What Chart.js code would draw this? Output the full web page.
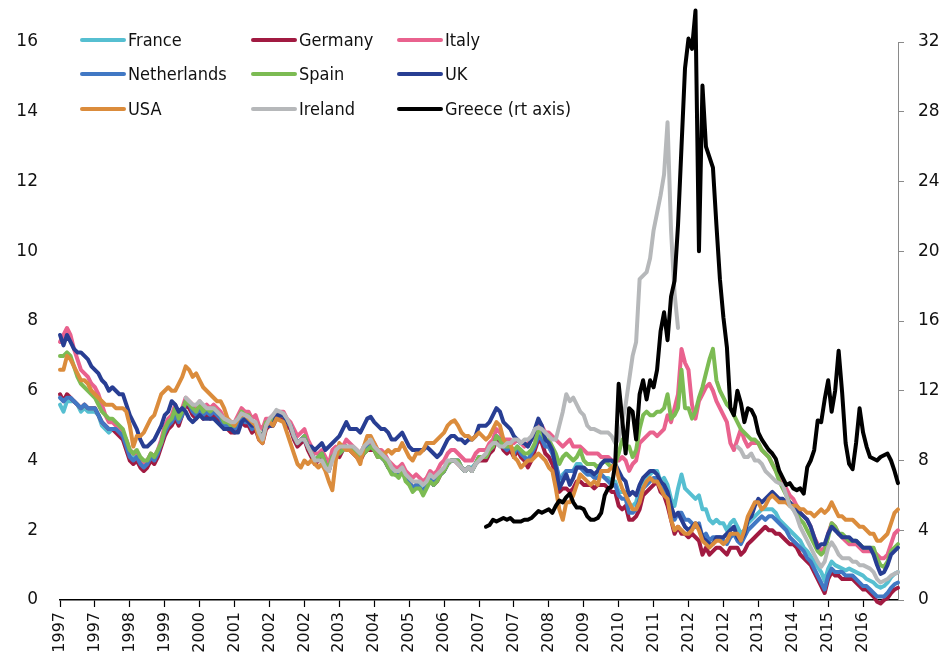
<!DOCTYPE html>
<html><head><meta charset="utf-8">
<script src="https://cdn.jsdelivr.net/npm/chart.js@4.4.1/dist/chart.umd.min.js"></script>
<style>html,body{margin:0;padding:0;background:#fff}#wrap{width:952px;height:662px;position:relative}</style>
</head><body><div id="wrap"><canvas id="c" width="952" height="662"></canvas></div>
<script>
// monthly categories Jan 1997 .. Jan 2017
const categories = [];
for (let m = 0; m <= 240; m++) categories.push((1997 + Math.floor(m / 12)) + '-' + String(m % 12 + 1).padStart(2, '0'));
const tickYears = ['1997','1997','1998','1999','2000','2001','2002','2002','2003','2004','2005','2006','2007','2007','2008','2009','2010','2011','2012','2012','2013','2014','2015','2016'];

const france = [
5.6,5.4,5.7,5.7,5.7,5.6,5.4,5.5,5.4,5.4,5.4,5.3,
5.0,4.9,4.8,4.9,4.9,4.8,4.7,4.4,4.1,4.1,4.2,3.9,
3.8,3.9,4.1,4.0,4.2,4.5,4.8,5.0,5.1,5.4,5.1,5.3,
5.7,5.6,5.4,5.3,5.5,5.3,5.4,5.3,5.4,5.3,5.2,5.0,
5.0,4.9,4.9,5.0,5.3,5.2,5.2,5.0,5.0,4.7,4.6,5.0,
5.0,5.1,5.3,5.3,5.3,5.1,5.0,4.7,4.5,4.6,4.7,4.4,
4.2,4.0,4.1,4.2,3.9,3.8,4.1,4.2,4.2,4.3,4.4,4.3,
4.3,4.2,4.1,4.3,4.4,4.4,4.3,4.2,4.1,4.0,3.9,3.7,
3.6,3.6,3.8,3.5,3.4,3.2,3.3,3.3,3.1,3.3,3.5,3.3,
3.5,3.6,3.7,3.9,4.0,4.0,4.0,3.8,3.7,3.8,3.8,3.9,
4.1,4.1,4.1,4.3,4.4,4.7,4.6,4.4,4.3,4.4,4.2,4.4,
4.2,4.1,4.0,4.2,4.4,4.8,4.7,4.4,4.4,4.2,3.9,3.4,
3.6,3.7,3.7,3.7,3.9,3.9,3.7,3.6,3.6,3.6,3.6,3.6,
3.5,3.5,3.4,3.4,3.1,3.1,3.1,2.7,2.7,2.8,3.2,3.4,
3.5,3.6,3.7,3.7,3.4,3.5,3.3,2.9,2.7,3.2,3.6,3.2,
3.1,3.0,2.9,3.0,2.6,2.6,2.3,2.2,2.3,2.2,2.2,2.0,
2.2,2.3,2.1,1.9,2.0,2.2,2.3,2.4,2.5,2.6,2.6,2.6,
2.6,2.5,2.3,2.2,2.1,2.0,1.9,1.8,1.7,1.5,1.4,1.25,
1.1,0.95,0.8,0.55,0.9,1.1,1.0,0.95,0.9,0.85,0.9,0.85,
0.8,0.75,0.7,0.6,0.55,0.5,0.4,0.35,0.4,0.5,0.65,0.75,
0.8];

const germany = [
5.9,5.7,5.9,5.8,5.7,5.6,5.5,5.6,5.5,5.5,5.5,5.3,
5.1,5.0,4.9,4.9,4.8,4.7,4.6,4.3,4.0,3.9,4.0,3.8,
3.7,3.8,4.0,3.9,4.1,4.4,4.7,4.9,5.0,5.2,5.0,5.3,
5.6,5.5,5.3,5.2,5.4,5.2,5.3,5.2,5.3,5.2,5.1,4.9,
4.9,4.8,4.8,4.9,5.1,5.0,5.0,4.8,4.9,4.6,4.5,4.9,
5.0,5.0,5.2,5.2,5.2,5.0,4.9,4.6,4.4,4.5,4.6,4.3,
4.1,3.9,4.0,4.1,3.8,3.7,4.1,4.2,4.1,4.3,4.4,4.3,
4.2,4.1,4.0,4.2,4.3,4.3,4.3,4.1,4.1,4.0,3.8,3.7,
3.6,3.6,3.7,3.5,3.4,3.2,3.3,3.2,3.1,3.3,3.5,3.3,
3.4,3.6,3.7,3.9,4.0,4.0,3.9,3.8,3.7,3.8,3.7,3.9,
4.0,4.0,4.0,4.2,4.3,4.6,4.5,4.3,4.2,4.3,4.1,4.3,
4.1,4.0,3.8,4.0,4.3,4.6,4.5,4.2,4.1,3.9,3.6,3.1,
3.2,3.2,3.1,3.2,3.4,3.4,3.3,3.3,3.3,3.2,3.3,3.3,
3.3,3.2,3.1,3.1,2.7,2.6,2.7,2.3,2.3,2.4,2.6,3.0,
3.1,3.2,3.3,3.4,3.1,3.0,2.7,2.3,1.9,2.1,1.9,1.9,
1.8,1.9,1.8,1.7,1.3,1.5,1.3,1.4,1.5,1.5,1.4,1.3,
1.5,1.5,1.5,1.3,1.4,1.6,1.7,1.8,1.9,2.0,2.1,2.0,
2.0,1.9,1.9,1.8,1.7,1.6,1.6,1.5,1.3,1.2,1.1,1.0,
0.8,0.6,0.4,0.2,0.6,0.8,0.7,0.7,0.6,0.6,0.6,0.6,
0.5,0.4,0.3,0.3,0.2,0.1,-0.05,-0.1,0.0,0.05,0.2,0.3,
0.35];

const italy = [
7.4,7.6,7.8,7.6,7.2,6.9,6.6,6.5,6.4,6.2,6.1,5.9,
5.6,5.3,5.1,5.1,5.0,4.9,4.8,4.6,4.3,4.2,4.2,4.0,
3.9,4.0,4.2,4.1,4.3,4.6,5.0,5.2,5.3,5.6,5.3,5.5,
5.8,5.7,5.6,5.5,5.7,5.5,5.6,5.5,5.6,5.5,5.4,5.2,
5.2,5.1,5.1,5.3,5.5,5.4,5.4,5.2,5.3,5.0,4.9,5.2,
5.2,5.3,5.4,5.4,5.4,5.2,5.1,4.9,4.7,4.8,4.9,4.6,
4.4,4.2,4.2,4.3,4.1,3.9,4.3,4.4,4.3,4.4,4.6,4.5,
4.4,4.3,4.2,4.4,4.5,4.5,4.5,4.3,4.3,4.2,4.0,3.9,
3.8,3.8,3.9,3.7,3.6,3.5,3.6,3.5,3.4,3.5,3.7,3.6,
3.7,3.9,4.0,4.2,4.3,4.3,4.2,4.1,4.0,4.0,4.0,4.2,
4.3,4.3,4.3,4.5,4.6,4.9,4.8,4.6,4.6,4.6,4.5,4.6,
4.5,4.4,4.5,4.6,4.8,5.1,5.0,4.8,4.8,4.7,4.6,4.5,
4.4,4.5,4.6,4.4,4.4,4.4,4.3,4.2,4.2,4.2,4.2,4.1,
4.1,4.1,4.0,4.0,4.0,4.1,4.0,3.7,3.9,4.0,4.5,4.6,
4.7,4.8,4.8,4.7,4.8,4.9,5.3,5.1,5.5,5.9,7.2,6.8,
6.6,5.6,5.2,5.7,5.9,6.1,6.2,6.0,5.7,5.5,5.3,5.1,
4.5,4.3,4.6,4.9,4.6,4.4,4.5,4.5,4.5,4.3,4.2,4.1,
3.9,3.7,3.5,3.3,3.2,3.0,2.9,2.7,2.5,2.4,2.3,2.1,
1.8,1.6,1.4,1.5,1.9,2.2,2.1,1.9,1.8,1.7,1.6,1.6,
1.6,1.5,1.4,1.4,1.4,1.4,1.3,1.2,1.2,1.3,1.6,1.9,
2.0];

const netherlands = [
5.8,5.7,5.8,5.8,5.7,5.6,5.5,5.6,5.5,5.5,5.5,5.3,
5.1,5.0,4.9,4.9,4.9,4.8,4.7,4.4,4.1,4.0,4.1,3.9,
3.8,3.9,4.1,4.0,4.2,4.5,4.8,5.0,5.1,5.3,5.1,5.3,
5.7,5.6,5.4,5.3,5.5,5.3,5.4,5.3,5.4,5.3,5.2,5.0,
5.0,4.9,4.9,5.0,5.2,5.1,5.1,4.9,5.0,4.7,4.6,5.0,
5.0,5.1,5.3,5.3,5.3,5.1,5.0,4.7,4.5,4.6,4.7,4.4,
4.2,4.0,4.1,4.2,3.9,3.7,4.1,4.2,4.2,4.3,4.4,4.3,
4.3,4.2,4.1,4.3,4.4,4.4,4.3,4.2,4.1,4.0,3.8,3.7,
3.6,3.6,3.7,3.5,3.4,3.2,3.3,3.2,3.1,3.3,3.5,3.3,
3.5,3.6,3.7,3.9,4.0,4.0,4.0,3.8,3.7,3.8,3.7,3.9,
4.1,4.1,4.1,4.3,4.4,4.7,4.6,4.4,4.3,4.4,4.2,4.4,
4.2,4.1,4.0,4.2,4.4,4.7,4.6,4.4,4.4,4.2,3.9,3.5,
3.5,3.7,3.7,3.7,3.8,3.8,3.7,3.6,3.6,3.5,3.5,3.6,
3.5,3.4,3.3,3.3,3.0,2.9,2.9,2.5,2.5,2.6,2.9,3.2,
3.3,3.4,3.5,3.5,3.3,3.2,3.0,2.6,2.3,2.5,2.5,2.3,
2.3,2.2,2.1,2.2,1.8,1.9,1.7,1.8,1.8,1.8,1.7,1.6,
1.8,1.9,1.7,1.6,1.8,2.0,2.1,2.2,2.3,2.4,2.3,2.4,
2.4,2.3,2.2,2.1,2.0,1.8,1.7,1.6,1.5,1.4,1.2,1.1,
0.9,0.7,0.5,0.3,0.7,0.9,0.8,0.8,0.8,0.7,0.7,0.7,
0.6,0.5,0.4,0.4,0.3,0.2,0.1,0.1,0.1,0.2,0.35,0.45,
0.5];

const spain = [
7.0,7.0,7.1,7.0,6.7,6.4,6.2,6.1,6.0,5.9,5.8,5.6,
5.4,5.3,5.2,5.2,5.1,5.0,4.9,4.6,4.3,4.2,4.3,4.1,
4.0,4.0,4.2,4.1,4.3,4.5,4.9,5.1,5.2,5.5,5.2,5.4,
5.7,5.6,5.5,5.4,5.6,5.4,5.5,5.4,5.5,5.4,5.3,5.1,
5.1,5.0,5.0,5.2,5.4,5.3,5.3,5.1,5.1,4.8,4.7,5.1,
5.1,5.2,5.3,5.3,5.3,5.1,5.0,4.7,4.5,4.6,4.7,4.4,
4.2,4.0,4.1,4.2,3.9,3.8,4.1,4.2,4.2,4.3,4.4,4.3,
4.3,4.2,4.1,4.2,4.3,4.4,4.3,4.1,4.1,4.0,3.8,3.6,
3.6,3.5,3.7,3.4,3.3,3.1,3.2,3.2,3.0,3.2,3.4,3.3,
3.4,3.6,3.7,3.9,4.0,4.0,4.0,3.8,3.7,3.8,3.7,3.9,
4.1,4.1,4.1,4.3,4.4,4.7,4.6,4.4,4.4,4.4,4.3,4.4,
4.3,4.2,4.2,4.3,4.5,4.9,4.8,4.6,4.6,4.4,4.2,3.9,
4.1,4.2,4.1,4.0,4.1,4.3,4.0,3.9,3.9,3.9,3.8,3.9,
4.0,3.9,3.8,3.9,4.2,4.6,4.4,4.4,4.1,4.3,4.9,5.3,
5.4,5.3,5.3,5.4,5.4,5.5,5.9,5.2,5.3,5.5,6.6,5.5,
5.5,5.2,5.4,5.8,6.1,6.5,6.9,7.2,6.3,6.0,5.8,5.6,
5.5,5.3,5.1,4.9,4.8,4.7,4.6,4.6,4.5,4.3,4.2,4.1,
3.9,3.7,3.4,3.2,3.0,2.8,2.6,2.5,2.3,2.2,2.0,1.8,
1.6,1.4,1.3,1.4,1.8,2.2,2.1,1.9,1.9,1.8,1.7,1.7,
1.7,1.6,1.5,1.5,1.5,1.5,1.2,1.0,0.95,1.1,1.4,1.5,
1.6];

const uk = [
7.6,7.3,7.6,7.4,7.2,7.1,7.1,7.0,6.9,6.7,6.6,6.5,
6.3,6.2,6.0,6.1,6.0,5.9,5.9,5.6,5.3,5.1,4.9,4.6,
4.4,4.4,4.5,4.6,4.8,5.0,5.3,5.4,5.7,5.6,5.4,5.5,
5.4,5.2,5.1,5.2,5.3,5.2,5.2,5.2,5.2,5.1,5.0,4.9,
4.9,4.9,4.8,4.8,5.1,5.2,5.1,5.0,5.0,4.7,4.7,5.0,
5.0,5.0,5.3,5.3,5.3,5.1,5.0,4.7,4.5,4.6,4.6,4.4,
4.4,4.3,4.4,4.5,4.3,4.4,4.5,4.6,4.7,4.9,5.1,4.9,
4.9,4.9,4.8,5.0,5.2,5.25,5.1,5.0,4.9,4.9,4.8,4.6,
4.6,4.7,4.8,4.6,4.4,4.3,4.3,4.3,4.3,4.4,4.3,4.2,
4.1,4.2,4.4,4.6,4.7,4.7,4.6,4.6,4.5,4.6,4.6,4.7,
5.0,5.0,5.0,5.1,5.3,5.5,5.4,5.1,5.0,4.9,4.7,4.6,
4.5,4.5,4.4,4.6,4.9,5.2,5.0,4.6,4.5,4.3,3.8,3.2,
3.4,3.6,3.3,3.5,3.8,3.8,3.8,3.7,3.7,3.6,3.7,3.9,
4.0,4.0,4.0,3.9,3.7,3.5,3.4,3.0,3.1,3.0,3.3,3.5,
3.6,3.7,3.7,3.6,3.4,3.3,3.1,2.7,2.4,2.5,2.3,2.1,
2.0,2.1,2.2,2.1,1.8,1.7,1.6,1.6,1.8,1.8,1.8,1.9,
2.0,2.1,1.8,1.7,1.9,2.3,2.4,2.7,2.9,2.8,2.9,3.0,
3.1,3.0,2.9,2.9,2.8,2.8,2.7,2.6,2.5,2.4,2.3,2.1,
1.8,1.5,1.6,1.6,1.9,2.1,2.0,1.9,1.8,1.8,1.8,1.7,
1.7,1.6,1.5,1.5,1.5,1.3,1.0,0.75,0.8,1.0,1.3,1.4,
1.5];

const usa = [
6.6,6.6,7.0,6.9,6.7,6.5,6.3,6.3,6.2,6.0,5.9,5.8,
5.7,5.6,5.6,5.6,5.5,5.5,5.5,5.4,5.0,4.4,4.7,4.7,
4.8,5.0,5.2,5.3,5.6,5.9,6.0,6.1,6.0,6.0,6.2,6.4,
6.7,6.6,6.4,6.5,6.3,6.1,6.0,5.9,5.8,5.7,5.7,5.5,
5.2,5.1,5.0,5.2,5.3,5.3,5.2,5.1,5.0,4.6,4.5,5.0,
5.1,5.0,5.2,5.15,5.1,4.8,4.5,4.2,3.9,3.8,4.0,3.9,
4.0,3.9,3.8,3.9,3.7,3.4,3.15,4.0,4.5,4.4,4.3,4.3,
4.2,4.1,3.9,4.4,4.7,4.7,4.5,4.3,4.2,4.2,4.3,4.2,
4.3,4.3,4.5,4.3,4.1,4.0,4.2,4.2,4.3,4.5,4.5,4.5,
4.6,4.7,4.8,5.0,5.1,5.15,5.0,4.8,4.7,4.7,4.6,4.7,
4.8,4.7,4.6,4.7,4.9,5.1,5.0,4.6,4.5,4.5,4.1,4.0,
3.8,3.9,4.0,4.0,4.1,4.2,4.1,4.0,3.8,3.7,3.2,2.6,
2.3,2.8,2.8,3.0,3.3,3.6,3.5,3.4,3.3,3.4,3.3,3.7,
3.7,3.7,3.8,3.9,3.5,3.2,3.0,2.8,2.6,2.6,2.8,3.2,
3.4,3.5,3.4,3.4,3.2,3.0,2.9,2.3,2.0,2.1,2.0,1.9,
1.9,2.0,2.2,2.0,1.7,1.6,1.5,1.6,1.7,1.7,1.6,1.7,
1.9,1.9,1.9,1.7,2.0,2.4,2.6,2.8,2.8,2.6,2.7,2.9,
3.0,2.9,2.8,2.8,2.8,2.7,2.7,2.7,2.6,2.6,2.5,2.5,
2.4,2.5,2.6,2.5,2.6,2.8,2.6,2.4,2.4,2.3,2.3,2.3,
2.2,2.1,2.1,2.0,1.9,1.9,1.7,1.7,1.8,1.9,2.2,2.5,
2.6];

const ireland = [
null,null,null,null,null,null,null,null,null,null,null,null,
null,null,null,null,null,null,null,null,null,null,null,null,
null,null,null,null,null,null,null,null,null,null,null,null,
5.8,5.7,5.6,5.6,5.7,5.6,5.5,5.5,5.5,5.4,5.3,5.2,
5.15,5.1,5.1,5.2,5.35,5.3,5.25,5.15,5.1,4.8,4.6,5.0,
5.2,5.3,5.45,5.4,5.35,5.2,5.0,4.7,4.5,4.6,4.6,4.4,
4.2,4.0,4.0,4.0,3.8,3.7,4.0,4.3,4.4,4.4,4.4,4.4,
4.4,4.3,4.2,4.4,4.5,4.6,4.4,4.3,4.2,4.1,4.0,3.8,
3.7,3.7,3.8,3.6,3.5,3.4,3.4,3.4,3.3,3.4,3.6,3.5,
3.6,3.7,3.8,4.0,4.0,4.0,3.9,3.8,3.7,3.8,3.7,3.9,
4.0,4.1,4.2,4.4,4.5,4.5,4.4,4.4,4.5,4.5,4.6,4.6,
4.5,4.6,4.6,4.7,4.9,4.95,4.9,4.8,4.7,4.6,4.6,5.0,
5.4,5.9,5.7,5.8,5.6,5.4,5.3,5.0,4.9,4.9,4.85,4.8,
4.8,4.8,4.7,4.5,4.6,5.1,5.6,6.3,7.0,7.4,9.2,9.3,
9.4,9.8,10.6,11.1,11.6,12.2,13.7,10.6,8.8,7.8,null,null,
null,null,null,null,null,null,null,null,null,null,null,null,
null,null,4.4,4.3,4.1,4.1,4.2,4.0,4.0,3.9,3.7,3.6,
3.5,3.4,3.35,3.3,3.0,2.7,2.6,2.4,2.1,1.9,1.7,1.5,
1.3,1.1,0.95,1.1,1.5,1.65,1.5,1.3,1.2,1.2,1.2,1.1,
1.1,1.0,1.0,0.95,0.9,0.8,0.6,0.5,0.55,0.6,0.7,0.75,
0.8];

const greece = [
null,null,null,null,null,null,null,null,null,null,null,null,
null,null,null,null,null,null,null,null,null,null,null,null,
null,null,null,null,null,null,null,null,null,null,null,null,
null,null,null,null,null,null,null,null,null,null,null,null,
null,null,null,null,null,null,null,null,null,null,null,null,
null,null,null,null,null,null,null,null,null,null,null,null,
null,null,null,null,null,null,null,null,null,null,null,null,
null,null,null,null,null,null,null,null,null,null,null,null,
null,null,null,null,null,null,null,null,null,null,null,null,
null,null,null,null,null,null,null,null,null,null,null,null,
null,null,4.2,4.3,4.6,4.5,4.6,4.7,4.6,4.7,4.5,4.5,
4.5,4.6,4.6,4.7,4.9,5.1,5.0,5.1,5.2,5.0,5.4,5.7,
5.6,5.9,6.1,5.6,5.3,5.3,5.2,4.8,4.6,4.6,4.7,5.0,
6.0,6.4,6.5,7.8,12.4,10.4,8.4,11.0,10.8,9.2,11.8,12.6,
11.5,12.6,12.2,13.2,15.4,16.5,14.9,17.4,18.3,21.5,26.0,30.5,
32.2,31.6,33.8,20.0,29.5,26.0,25.4,24.8,21.5,18.4,16.2,14.5,
11.0,10.6,12.0,11.3,10.2,11.0,10.9,10.5,9.6,9.2,8.9,8.6,
8.4,8.1,7.4,7.0,6.6,6.7,6.4,6.3,6.4,6.1,7.6,8.0,
8.6,10.3,10.2,11.5,12.6,10.8,12.0,14.3,11.9,9.0,7.8,7.5,
9.0,11.0,9.6,8.8,8.2,8.1,8.0,8.2,8.3,8.4,8.0,7.4,
6.7];

const seriesNames = ['France','Germany','Italy','Netherlands','Spain','UK','USA','Ireland','Greece (rt axis)'];
const seriesData = [france, germany, italy, netherlands, spain, uk, usa, ireland, greece];
const seriesColors = ['#56BFD1','#A11A41','#E9628E','#4178C4','#7CBB53','#283E93','#DB8C3C','#B6B8BA','#000000'];

const datasets = seriesNames.map((name, i) => ({
  label: name,
  data: seriesData[i],
  borderColor: seriesColors[i],
  backgroundColor: seriesColors[i],
  borderWidth: 4,
  pointRadius: 0,
  tension: 0,
  spanGaps: false,
  borderJoinStyle: 'round',
  borderCapStyle: 'round',
  yAxisID: i === 8 ? 'y2' : 'y',
  order: seriesNames.length - 1 - i,
  clip: {left: 4, top: 40, right: 4, bottom: 10}
}));

const legendFont = '18px "Liberation Sans Narrow", "DejaVu Sans Condensed", sans-serif';
const legendCols = [82, 253, 399];
const legendRows = [40, 74, 109];
const legendPlugin = {
  id: 'gridLegend',
  afterDraw(chart) {
    const ctx = chart.ctx;
    ctx.save();
    ctx.font = legendFont;
    ctx.textBaseline = 'middle';
    ctx.lineCap = 'round';
    ctx.lineWidth = 4;
    seriesNames.forEach((name, i) => {
      const x = legendCols[i % 3], y = legendRows[Math.floor(i / 3)];
      ctx.strokeStyle = seriesColors[i];
      ctx.beginPath(); ctx.moveTo(x, y); ctx.lineTo(x + 42, y); ctx.stroke();
      ctx.fillStyle = '#111';
      ctx.fillText(name, x + 46, y + 1);
    });
    ctx.restore();
  }
};

new Chart(document.getElementById('c'), {
  type: 'line',
  data: { labels: categories, datasets },
  options: {
    responsive: false,
    animation: false,
    devicePixelRatio: 1,
    layout: { padding: { top: 42, left: 0, right: 0, bottom: 0 } },
    plugins: { legend: { display: false }, tooltip: { enabled: false } },
    scales: {
      x: {
        type: 'category',
        afterBuildTicks(scale) { scale.ticks = scale.ticks.filter(t => t.value % 10 === 0 && t.value < 240); },
        afterFit(scale) { scale.height = 62; },
        grid: { display: true, drawOnChartArea: false, drawTicks: true, tickLength: 7, color: '#000', tickWidth: 1.2 },
        border: { display: true, color: '#000', width: 1.5 },
        ticks: {
          autoSkip: false, maxRotation: 90, minRotation: 90, padding: 5,
          color: '#111', font: { family: 'DejaVu Sans', size: 16 },
          callback: (v) => tickYears[v / 10]
        }
      },
      y: {
        position: 'left', min: 0, max: 16,
        afterFit(scale) { scale.width = 60; },
        grid: { display: false, drawTicks: false },
        border: { display: false },
        ticks: { stepSize: 2, padding: 22, color: '#111', font: { family: 'DejaVu Sans', size: 17 } }
      },
      y2: {
        position: 'right', min: 0, max: 32,
        afterFit(scale) { scale.width = 54; },
        grid: { display: true, drawOnChartArea: false, drawTicks: true, tickLength: 6, color: '#8a8a8a' },
        border: { display: true, color: '#8a8a8a', width: 1 },
        ticks: { stepSize: 4, padding: 14, color: '#111', font: { family: 'DejaVu Sans', size: 17 } }
      }
    }
  },
  plugins: [legendPlugin]
});
</script></body></html>
